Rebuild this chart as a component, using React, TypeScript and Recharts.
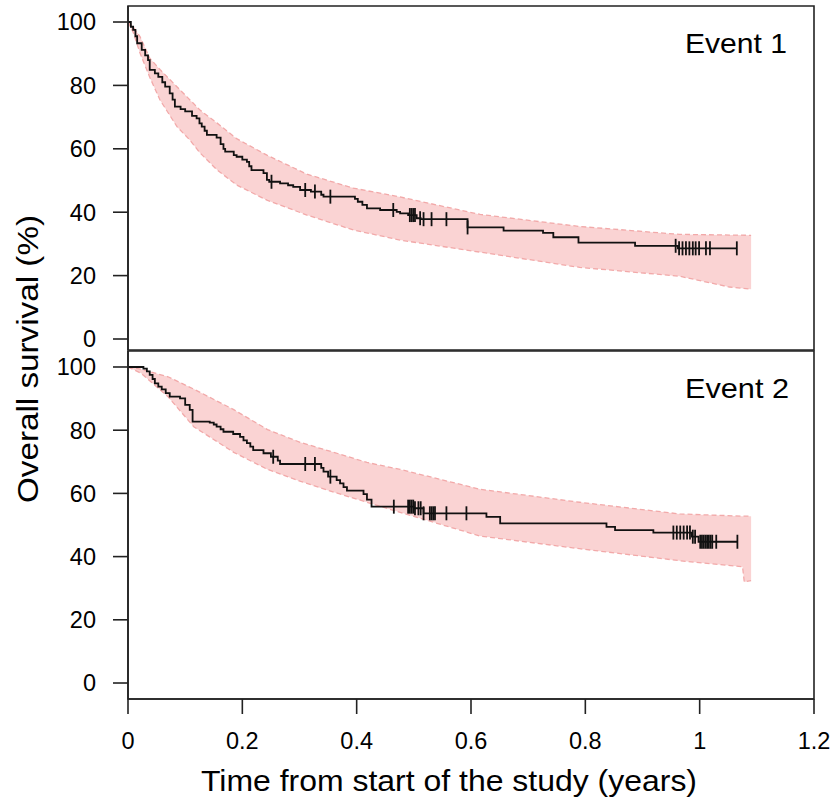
import React from 'react';
import { ComposedChart, Line, Area, Scatter, XAxis, YAxis, ReferenceArea } from 'recharts';

const FONT = '"Liberation Sans", Arial, Helvetica, sans-serif';

const xTicks = [0, 0.2, 0.4, 0.6, 0.8, 1, 1.2];
const yTicks = [0, 20, 40, 60, 80, 100];

// Event 1 - Kaplan-Meier steps
const km1Times = [0, 0.005, 0.009, 0.013, 0.016, 0.024, 0.03, 0.035, 0.038, 0.047, 0.053, 0.06, 0.065, 0.073, 0.078, 0.082, 0.092, 0.1, 0.112, 0.12, 0.125, 0.129, 0.134, 0.138, 0.155, 0.162, 0.167, 0.17, 0.185, 0.19, 0.2, 0.208, 0.212, 0.216, 0.237, 0.243, 0.247, 0.266, 0.28, 0.289, 0.301, 0.32, 0.338, 0.342, 0.397, 0.402, 0.41, 0.418, 0.441, 0.47, 0.476, 0.49, 0.505, 0.512, 0.594, 0.657, 0.726, 0.744, 0.788, 0.887, 0.962, 1.065];
const km1Surv = [100, 98.5, 97.5, 95.5, 93.3, 91.2, 89.5, 88, 84.9, 83.8, 82.7, 81, 79.6, 77.5, 75.5, 73.3, 72.5, 71.8, 70.4, 69.6, 68, 67, 65.7, 64.4, 63.5, 61.5, 60, 59.1, 58, 57.5, 56.6, 55.9, 54.5, 53.3, 52.3, 50.2, 49.6, 49.1, 48.5, 48, 47, 46.5, 45.5, 44.9, 44.2, 43.3, 42.3, 41.2, 40.7, 40.1, 39.6, 39.1, 38.1, 37.8, 35.2, 34.2, 33.5, 32.1, 30.4, 29.4, 28.6, 28.6];
const cens1Times = [0.251, 0.31, 0.327, 0.354, 0.464, 0.493, 0.496, 0.499, 0.502, 0.511, 0.517, 0.531, 0.557, 0.594, 0.958, 0.964, 0.97, 0.976, 0.982, 0.988, 0.993, 0.999, 1.011, 1.018, 1.065];
const band1Times = [0, 0.009, 0.021, 0.038, 0.056, 0.086, 0.108, 0.126, 0.156, 0.19, 0.243, 0.313, 0.394, 0.476, 0.616, 0.79, 0.965, 1.052, 1.09];
const band1Lo = [100, 96.8, 90.2, 82.6, 75.4, 66.9, 62.8, 58.7, 53.3, 48.6, 43.8, 39.1, 34.4, 31.2, 27.4, 22.6, 19.8, 16.4, 15.7];
const band1Hi = [100, 98.4, 95.4, 88.6, 85, 79.5, 75.5, 72.2, 68.1, 63.2, 58, 52, 47.6, 44.8, 39.3, 35.5, 33, 32.8, 32.7];

// Event 2 - Kaplan-Meier steps
const km2Times = [0, 0.027, 0.033, 0.038, 0.043, 0.047, 0.053, 0.059, 0.066, 0.073, 0.091, 0.1, 0.108, 0.113, 0.143, 0.15, 0.155, 0.162, 0.167, 0.184, 0.196, 0.202, 0.208, 0.214, 0.219, 0.237, 0.25, 0.262, 0.266, 0.338, 0.342, 0.35, 0.365, 0.371, 0.377, 0.383, 0.412, 0.418, 0.426, 0.5, 0.517, 0.627, 0.651, 0.837, 0.852, 0.919, 0.986, 0.998, 1.066];
const km2Surv = [100, 99.5, 98.6, 97.5, 96.2, 94.8, 93.8, 92.9, 91.7, 90.6, 90.1, 88, 86.4, 82.7, 82.4, 81.8, 81.1, 80.3, 79.5, 78.8, 77.9, 76.8, 75.9, 74.8, 73.7, 72.7, 71.6, 70.4, 69.3, 68.1, 66.9, 65.3, 64.2, 63.2, 62, 60.9, 59.8, 58, 55.8, 55.3, 53.7, 52.6, 50.5, 49.4, 48.4, 47.6, 46.3, 44.7, 44.7];
const cens2Times = [0.254, 0.31, 0.327, 0.354, 0.465, 0.49, 0.493, 0.496, 0.499, 0.502, 0.508, 0.512, 0.517, 0.528, 0.531, 0.534, 0.537, 0.557, 0.592, 0.954, 0.96, 0.966, 0.972, 0.978, 0.983, 0.988, 0.992, 1.001, 1.004, 1.007, 1.01, 1.013, 1.016, 1.019, 1.022, 1.029, 1.066];
const band2Times = [0, 0.023, 0.07, 0.115, 0.185, 0.244, 0.302, 0.36, 0.418, 0.476, 0.616, 0.79, 0.965, 1.075, 1.078, 1.09];
const band2Lo = [100, 98, 90.6, 81.1, 73, 67.6, 63.8, 60.4, 57.2, 54, 46.5, 42.5, 38.7, 36.8, 32, 32.4];
const band2Hi = [100, 99.3, 96.9, 93, 86.5, 80.2, 76.1, 73, 69.8, 67.6, 61.3, 57.2, 53.5, 52.8, 52.8, 52.8];

type Row = { t: number; s?: number; lo?: number; hi?: number };

const steps = (times: number[], surv: number[]): Row[] => times.map((t, i) => ({ t, s: surv[i] }));
const band = (times: number[], lo: number[], hi: number[]): Row[] =>
  times.map((t, i) => ({ t, lo: lo[i], hi: hi[i] }));
// censor mark sits on the curve: look up the step value at that time
const censors = (cTimes: number[], times: number[], surv: number[]): Row[] =>
  cTimes.map((t) => {
    let s = surv[0];
    times.forEach((tt, i) => {
      if (tt <= t) s = surv[i];
    });
    return { t, s };
  });

const CensorMark = (props: any) => {
  const { cx, cy } = props;
  if (cx == null || cy == null) return null;
  return <line x1={cx} x2={cx} y1={cy - 7} y2={cy + 7} stroke="#111" strokeWidth={1.8} />;
};

const axisStroke = { stroke: '#222', strokeWidth: 1.6 };
const tickStyle = { fill: '#000', fontSize: 23.5, fontFamily: FONT };

type PanelProps = {
  top: number;
  height: number;
  margin: { top: number; right: number; bottom: number; left: number };
  domain: [number, number];
  km: Row[];
  cens: Row[];
  ci: Row[];
  showX: boolean;
};

function Panel({ top, height, margin, domain, km, cens, ci, showX }: PanelProps) {
  return (
    <div style={{ position: 'absolute', left: 0, top }}>
      <ComposedChart width={837} height={height} margin={margin}>
        <XAxis
          dataKey="t"
          type="number"
          domain={[0, 1.2]}
          ticks={xTicks}
          interval={0}
          allowDataOverflow
          hide={!showX}
          height={showX ? 100 : 0}
          tickSize={15}
          tickMargin={18}
          tick={tickStyle}
          axisLine={axisStroke}
          tickLine={axisStroke}
        />
        <YAxis
          type="number"
          domain={domain}
          ticks={yTicks}
          interval={0}
          allowDataOverflow
          width={128}
          tickSize={15}
          tickMargin={17}
          tick={tickStyle}
          axisLine={axisStroke}
          tickLine={axisStroke}
        />
        <Area
          data={ci}
          dataKey={(d: Row) => [d.lo, d.hi]}
          type="linear"
          stroke="#f2a9a9"
          strokeWidth={1.3}
          strokeDasharray="5 3"
          fill="#fad3d3"
          fillOpacity={1}
          dot={false}
          activeDot={false}
          isAnimationActive={false}
        />
        <Line
          data={km}
          dataKey="s"
          type="stepAfter"
          stroke="#111"
          strokeWidth={1.8}
          dot={false}
          activeDot={false}
          isAnimationActive={false}
        />
        <Scatter data={cens} dataKey="s" shape={CensorMark} isAnimationActive={false} />
        <ReferenceArea
          x1={0}
          x2={1.2}
          y1={domain[0]}
          y2={domain[1]}
          fill="none"
          stroke="#222"
          strokeWidth={1.6}
          ifOverflow="visible"
        />
      </ComposedChart>
    </div>
  );
}

export default function App() {
  return (
    <div style={{ position: 'absolute', left: 0, top: 0, width: 837, height: 799, background: '#fff' }}>
      <Panel
        top={0}
        height={352}
        margin={{ top: 6, right: 23, bottom: 2, left: 0 }}
        domain={[-3.47, 105.05]}
        km={steps(km1Times, km1Surv)}
        cens={censors(cens1Times, km1Times, km1Surv)}
        ci={band(band1Times, band1Lo, band1Hi)}
        showX={false}
      />
      <Panel
        top={345}
        height={454}
        margin={{ top: 6, right: 23, bottom: 0, left: 0 }}
        domain={[-5.06, 105.06]}
        km={steps(km2Times, km2Surv)}
        cens={censors(cens2Times, km2Times, km2Surv)}
        ci={band(band2Times, band2Lo, band2Hi)}
        showX={true}
      />
      <svg
        width={837}
        height={799}
        style={{ position: 'absolute', left: 0, top: 0, pointerEvents: 'none' }}
      >
        <g fontFamily={FONT} fill="#000">
          <text x={685} y={53} fontSize={28} textLength={102} lengthAdjust="spacingAndGlyphs">
            Event 1
          </text>
          <text x={685} y={398} fontSize={28} textLength={104} lengthAdjust="spacingAndGlyphs">
            Event 2
          </text>
          <text
            x={449}
            y={791}
            fontSize={29}
            textAnchor="middle"
            textLength={496}
            lengthAdjust="spacingAndGlyphs"
          >
            Time from start of the study (years)
          </text>
          <text
            transform="translate(38, 359) rotate(-90)"
            fontSize={30}
            textAnchor="middle"
            textLength={288}
            lengthAdjust="spacingAndGlyphs"
          >
            Overall survival (%)
          </text>
        </g>
      </svg>
    </div>
  );
}
